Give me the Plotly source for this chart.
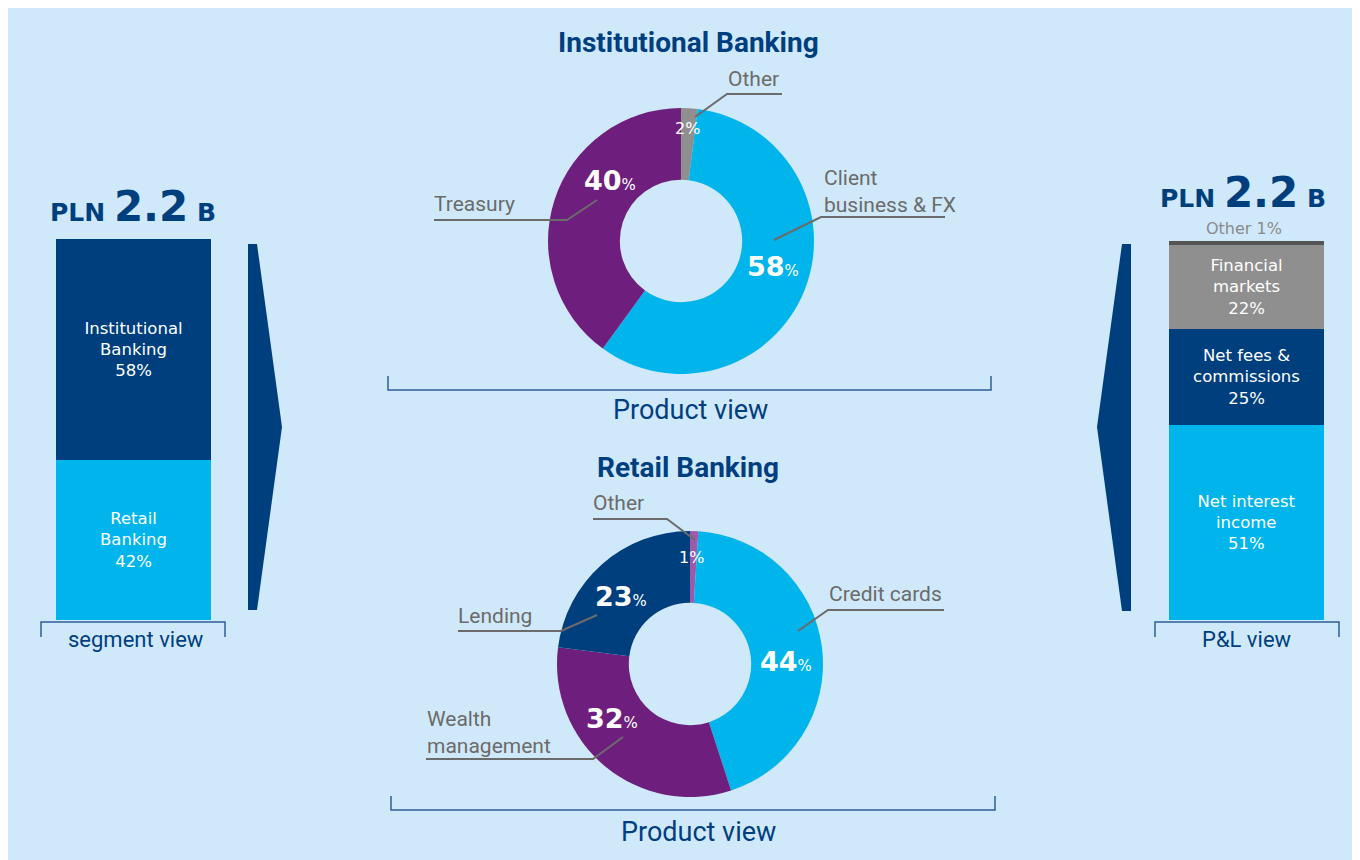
import plotly.graph_objects as go

# ---------------- data ----------------
seg_labels = ["Retail<br>Banking", "Institutional<br>Banking"]
seg_values = [42, 58]
seg_colors = ["#00b5ec", "#003f7e"]

pl_labels = ["Net interest<br>income", "Net fees &<br>commissions", "Financial<br>markets", "Other"]
pl_values = [51, 25, 22, 1]
pl_colors = ["#00b5ec", "#003f7e", "#8f8f8f", "#555555"]

inst_labels = ["Other", "Client<br>business & FX", "Treasury"]
inst_values = [2, 58, 40]
inst_colors = ["#8f8f8f", "#00b5ec", "#6e1f7e"]

retail_labels = ["Other", "Credit cards", "Wealth<br>management", "Lending"]
retail_values = [1, 44, 32, 23]
retail_colors = ["#9c5aa8", "#00b5ec", "#6e1f7e", "#003f7e"]

total_value = "2.2"
titles = ["Institutional Banking", "Retail Banking"]

# ---------------- layout helpers ----------------
W, H, OFF = 1360, 860, 8
BG = "#d0e9fa"
NAVY = "#003f7e"
GREY_TXT = "#6b6b6b"
LINE_GREY = "#6b6b6b"
BRACKET = "#2d5e98"
FONT = "Roboto"
WIDE = "DejaVu Sans"


def X(px):
    return (px - OFF) / W


def Y(py):
    return 1 - (py - OFF) / H


def path(points):
    return "M " + " L ".join(f"{X(a):.5f},{Y(b):.5f}" for a, b in points)


fig = go.Figure()

# ---------------- stacked bars ----------------
for lab, val, col in zip(seg_labels, seg_values, seg_colors):
    fig.add_trace(go.Bar(
        x=["seg"], y=[val], width=[1], marker=dict(color=col, line=dict(width=0)),
        text=[f"{lab}<br>{val}%"], textposition="inside", insidetextanchor="middle",
        textangle=0, textfont=dict(color="white", size=16.5, family=WIDE),
        xaxis="x", yaxis="y", showlegend=False, hoverinfo="skip"))

for lab, val, col in zip(pl_labels, pl_values, pl_colors):
    txt = "" if lab == "Other" else f"{lab}<br>{val}%"
    fig.add_trace(go.Bar(
        x=["pl"], y=[val], width=[1], marker=dict(color=col, line=dict(width=0)),
        text=[txt], textposition="inside", insidetextanchor="middle",
        textangle=0, textfont=dict(color="white", size=16.5, family=WIDE),
        xaxis="x2", yaxis="y2", showlegend=False, hoverinfo="skip"))

# ---------------- donuts ----------------
fig.add_trace(go.Pie(
    labels=inst_labels, values=inst_values, marker=dict(colors=inst_colors, line=dict(width=0)),
    hole=0.46, sort=False, direction="clockwise", rotation=0, textinfo="none",
    domain=dict(x=[X(548), X(814)], y=[Y(374), Y(108)]), showlegend=False, hoverinfo="skip"))

fig.add_trace(go.Pie(
    labels=retail_labels, values=retail_values, marker=dict(colors=retail_colors, line=dict(width=0)),
    hole=0.46, sort=False, direction="clockwise", rotation=0, textinfo="none",
    domain=dict(x=[X(557), X(823)], y=[Y(797), Y(531)]), showlegend=False, hoverinfo="skip"))

annotations = []
shapes = []


def ann(px, py, text, size, color, xanchor="center", yanchor="middle", align="center",
        family=FONT):
    annotations.append(dict(x=X(px), y=Y(py), xref="paper", yref="paper", text=text,
                            showarrow=False, xanchor=xanchor, yanchor=yanchor, align=align,
                            font=dict(size=size, color=color, family=family)))


def line(points, color=LINE_GREY, width=2):
    shapes.append(dict(type="path", path=path(points), xref="paper", yref="paper",
                       line=dict(color=color, width=width)))


# titles
ann(688, 42, f"<b>{titles[0]}</b>", 28, NAVY)
ann(688, 467, f"<b>{titles[1]}</b>", 28, NAVY)

# percentage labels on donuts
def big_pct(v):
    return f"<b>{v}</b><span style='font-size:15px'>%</span>"

ann(610, 181, big_pct(inst_values[2]), 27, "white", family=WIDE)
ann(773, 267, big_pct(inst_values[1]), 27, "white", family=WIDE)
ann(687, 129, f"{inst_values[0]}%", 16, "white", family=WIDE)
ann(621, 596, big_pct(retail_values[3]), 27, "white", family=WIDE)
ann(786, 661, big_pct(retail_values[1]), 27, "white", family=WIDE)
ann(612, 718, big_pct(retail_values[2]), 27, "white", family=WIDE)
ann(691, 557, f"{retail_values[0]}%", 16, "white", family=WIDE)

# callout labels - institutional
ann(726, 79, inst_labels[0], 21, GREY_TXT, xanchor="left")
line([(695, 117), (727, 94), (782, 94)])
ann(822, 191, inst_labels[1], 21, GREY_TXT, xanchor="left", align="left")
line([(774, 240), (821, 217), (945, 217)])
ann(432, 204, inst_labels[2], 21, GREY_TXT, xanchor="left")
line([(597, 200), (567, 220), (434, 220)])

# callout labels - retail
ann(591, 503, retail_labels[0], 21, GREY_TXT, xanchor="left")
line([(695, 540), (667, 519), (593, 519)])
ann(827, 594, retail_labels[1], 21, GREY_TXT, xanchor="left")
line([(798, 631), (828, 610), (944, 610)])
ann(456, 616, retail_labels[3], 21, GREY_TXT, xanchor="left")
line([(597, 615), (561, 631), (458, 631)])
ann(425, 732, retail_labels[2], 21, GREY_TXT, xanchor="left", align="left")
line([(623, 737), (593, 759), (426, 759)])

# brackets
line([(388, 376), (388, 390), (991, 390), (991, 376)], BRACKET, 1.5)
line([(391, 796), (391, 810), (995, 810), (995, 796)], BRACKET, 1.5)
line([(41, 637), (41, 622), (225, 622), (225, 637)], BRACKET, 1.5)
line([(1155, 637), (1155, 622), (1339, 622), (1339, 637)], BRACKET, 1.5)

ann(690, 410, "Product view", 27, NAVY)
ann(698, 832, "Product view", 27, NAVY)
ann(136, 639, "segment view", 22, NAVY)
ann(1247, 639, "P&L view", 22, NAVY)

# totals
pln = f"<b>PLN <span style='font-size:42px'>{total_value}</span> B</b>"
ann(133, 206, pln, 25, NAVY, family=WIDE)
ann(1243, 192, pln, 25, NAVY, family=WIDE)
ann(1244, 228, f"{pl_labels[3]} {pl_values[3]}%", 16, "#8a8a8a", family=WIDE)

# arrows
shapes.append(dict(type="path", xref="paper", yref="paper",
                   path=path([(248, 244), (257, 244), (282, 427), (257, 610), (248, 610)]) + " Z",
                   fillcolor=NAVY, line=dict(width=0)))
shapes.append(dict(type="path", xref="paper", yref="paper",
                   path=path([(1131, 244), (1122, 244), (1097, 427), (1122, 611), (1131, 611)]) + " Z",
                   fillcolor=NAVY, line=dict(width=0)))

fig.update_layout(
    width=W, height=H, margin=dict(l=0, r=0, t=0, b=0),
    paper_bgcolor=BG, plot_bgcolor="rgba(0,0,0,0)",
    barmode="stack", bargap=0, font=dict(family=FONT),
    xaxis=dict(domain=[X(56), X(211)], range=[-0.5, 0.5], visible=False, fixedrange=True),
    yaxis=dict(domain=[Y(620), Y(239)], range=[0, sum(seg_values)], visible=False, fixedrange=True),
    xaxis2=dict(domain=[X(1169), X(1324)], range=[-0.5, 0.5], visible=False, anchor="y2", fixedrange=True),
    yaxis2=dict(domain=[Y(620), Y(241)], range=[0, sum(pl_values)], visible=False, anchor="x2", fixedrange=True),
    annotations=annotations, shapes=shapes,
)

fig.write_html("out.html", config={"displayModeBar": False})
